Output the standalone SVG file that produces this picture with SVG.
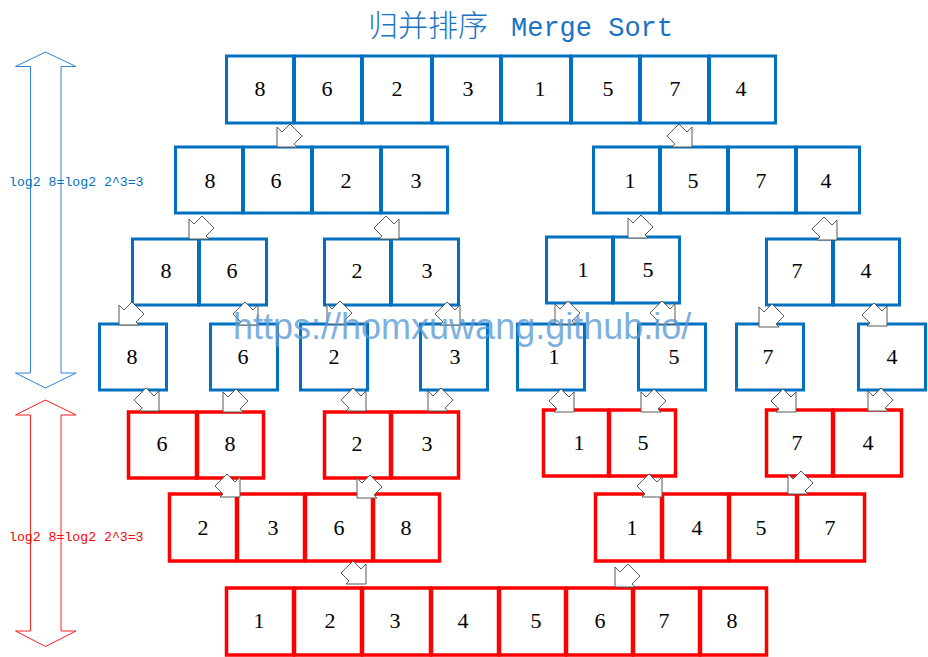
<svg xmlns="http://www.w3.org/2000/svg" xmlns:xlink="http://www.w3.org/1999/xlink" width="928" height="657" viewBox="0 0 928 657">
<style>
.b{fill:#fff;stroke:#0070c0;stroke-width:3}
.r{fill:#fff;stroke:#ff0000;stroke-width:3.5}
.n{font-family:"Liberation Serif","Times New Roman",serif;font-size:22px;fill:#000;text-anchor:middle}
.ar{fill:#fff;stroke:#595959;stroke-width:1}
.lg{font-family:"Liberation Mono","Courier New",monospace;font-size:13.2px}
</style>
<defs>
<polygon id="dl" class="ar" points="0,0 0,-20 5,-15 13,-23 25,-11 17,-3 20,0"/>
<polygon id="dr" class="ar" points="0,0 0,-20 -5,-15 -13,-23 -25,-11 -17,-3 -20,0"/>
</defs>
<rect width="928" height="657" fill="#fff"/>
<g id="title">
<text x="368" y="36" font-family="'Noto Sans CJK SC',sans-serif" font-weight="300" font-size="30" fill="#1a73c2">归并排序</text>
<text x="511" y="36" font-family="'Liberation Mono','Courier New',monospace" font-size="27" fill="#1a73c2">Merge Sort</text>
</g>
<g id="depth-split">
<polygon points="45.5,52 76,66.5 61,66.5 61,373 76,373 45.5,388 15.5,373 30.5,373 30.5,66.5 15.5,66.5" fill="none" stroke="#2f86d6" stroke-width="1"/>
<text class="lg" x="9" y="186" fill="#0070c0">log2 8=log2 2^3=3</text>
</g>
<g id="depth-merge">
<polygon points="45.5,400 76,415 61,415 61,631 76,631 45.5,646.5 15.5,631 30.5,631 30.5,415 15.5,415" fill="none" stroke="#ff2020" stroke-width="1"/>
<text class="lg" x="9" y="541" fill="#ff0000">log2 8=log2 2^3=3</text>
</g>
<g id="row1">
<g id="n1-1"><rect class="b" x="226.5" y="56" width="67" height="67"/><text class="n" x="260" y="96">8</text></g>
<g id="n1-2"><rect class="b" x="294.5" y="56" width="67" height="67"/><text class="n" x="327" y="96">6</text></g>
<g id="n1-3"><rect class="b" x="362.5" y="56" width="69" height="67"/><text class="n" x="397" y="96">2</text></g>
<g id="n1-4"><rect class="b" x="432.5" y="56" width="68" height="67"/><text class="n" x="468" y="96">3</text></g>
<g id="n1-5"><rect class="b" x="501.5" y="56" width="69" height="67"/><text class="n" x="540" y="96">1</text></g>
<g id="n1-6"><rect class="b" x="571.5" y="56" width="68" height="67"/><text class="n" x="608" y="96">5</text></g>
<g id="n1-7"><rect class="b" x="640.5" y="56" width="68" height="67"/><text class="n" x="675" y="96">7</text></g>
<g id="n1-8"><rect class="b" x="709.5" y="56" width="66" height="67"/><text class="n" x="741" y="96">4</text></g>
</g>
<g id="row2">
<g id="n2-1"><rect class="b" x="175.5" y="147" width="67" height="66"/><text class="n" x="210" y="188">8</text></g>
<g id="n2-2"><rect class="b" x="243.5" y="147" width="68" height="66"/><text class="n" x="276" y="188">6</text></g>
<g id="n2-3"><rect class="b" x="312.5" y="147" width="68" height="66"/><text class="n" x="346" y="188">2</text></g>
<g id="n2-4"><rect class="b" x="381.5" y="147" width="66" height="66"/><text class="n" x="416" y="188">3</text></g>
<g id="n2-5"><rect class="b" x="593.5" y="147" width="66" height="66"/><text class="n" x="630" y="188">1</text></g>
<g id="n2-6"><rect class="b" x="660.5" y="147" width="67" height="66"/><text class="n" x="693" y="188">5</text></g>
<g id="n2-7"><rect class="b" x="728.5" y="147" width="67" height="66"/><text class="n" x="761" y="188">7</text></g>
<g id="n2-8"><rect class="b" x="796.5" y="147" width="63" height="66"/><text class="n" x="826" y="188">4</text></g>
</g>
<g id="row3">
<g id="n3-1"><rect class="b" x="132.5" y="239" width="66" height="66"/><text class="n" x="166" y="278">8</text></g>
<g id="n3-2"><rect class="b" x="199.5" y="239" width="67" height="66"/><text class="n" x="232" y="278">6</text></g>
<g id="n3-3"><rect class="b" x="324.5" y="239" width="66" height="66"/><text class="n" x="357" y="278">2</text></g>
<g id="n3-4"><rect class="b" x="391.5" y="239" width="67" height="66"/><text class="n" x="427" y="278">3</text></g>
<g id="n3-5"><rect class="b" x="546.5" y="237" width="66" height="66"/><text class="n" x="583" y="277">1</text></g>
<g id="n3-6"><rect class="b" x="613.5" y="237" width="66" height="66"/><text class="n" x="648" y="277">5</text></g>
<g id="n3-7"><rect class="b" x="766.5" y="239" width="66" height="66"/><text class="n" x="797" y="278">7</text></g>
<g id="n3-8"><rect class="b" x="833.5" y="239" width="66" height="66"/><text class="n" x="866" y="278">4</text></g>
</g>
<g id="row4">
<g id="n4-1"><rect class="b" x="99.5" y="324" width="67" height="66"/><text class="n" x="132" y="364">8</text></g>
<g id="n4-2"><rect class="b" x="210.5" y="324" width="67" height="66"/><text class="n" x="243" y="364">6</text></g>
<g id="n4-3"><rect class="b" x="300.5" y="324" width="67" height="66"/><text class="n" x="334" y="364">2</text></g>
<g id="n4-4"><rect class="b" x="420.5" y="324" width="67" height="66"/><text class="n" x="455" y="364">3</text></g>
<g id="n4-5"><rect class="b" x="517.5" y="324" width="67" height="66"/><text class="n" x="554" y="364">1</text></g>
<g id="n4-6"><rect class="b" x="638.5" y="324" width="67" height="66"/><text class="n" x="674" y="364">5</text></g>
<g id="n4-7"><rect class="b" x="736.5" y="324" width="67" height="66"/><text class="n" x="768" y="364">7</text></g>
<g id="n4-8"><rect class="b" x="858.5" y="324" width="67" height="66"/><text class="n" x="892" y="364">4</text></g>
</g>
<g id="row5">
<g id="n5-1"><rect class="r" x="128.5" y="412" width="68" height="66"/><text class="n" x="162" y="451">6</text></g>
<g id="n5-2"><rect class="r" x="197.5" y="412" width="66" height="66"/><text class="n" x="230" y="451">8</text></g>
<g id="n5-3"><rect class="r" x="324.5" y="412" width="66" height="66"/><text class="n" x="357" y="451">2</text></g>
<g id="n5-4"><rect class="r" x="391.5" y="412" width="67" height="66"/><text class="n" x="427" y="451">3</text></g>
<g id="n5-5"><rect class="r" x="543.5" y="410" width="65" height="66"/><text class="n" x="579" y="450">1</text></g>
<g id="n5-6"><rect class="r" x="609.5" y="410" width="66" height="66"/><text class="n" x="643" y="450">5</text></g>
<g id="n5-7"><rect class="r" x="766.5" y="410" width="66" height="66"/><text class="n" x="797" y="450">7</text></g>
<g id="n5-8"><rect class="r" x="833.5" y="410" width="68" height="66"/><text class="n" x="868" y="450">4</text></g>
</g>
<g id="row6">
<g id="n6-1"><rect class="r" x="169.5" y="494" width="67" height="67"/><text class="n" x="203" y="535">2</text></g>
<g id="n6-2"><rect class="r" x="237.5" y="494" width="67" height="67"/><text class="n" x="273" y="535">3</text></g>
<g id="n6-3"><rect class="r" x="305.5" y="494" width="67" height="67"/><text class="n" x="339" y="535">6</text></g>
<g id="n6-4"><rect class="r" x="373.5" y="494" width="66" height="67"/><text class="n" x="406" y="535">8</text></g>
<g id="n6-5"><rect class="r" x="595.5" y="494" width="66" height="67"/><text class="n" x="632" y="535">1</text></g>
<g id="n6-6"><rect class="r" x="662.5" y="494" width="66" height="67"/><text class="n" x="697" y="535">4</text></g>
<g id="n6-7"><rect class="r" x="729.5" y="494" width="67" height="67"/><text class="n" x="761" y="535">5</text></g>
<g id="n6-8"><rect class="r" x="797.5" y="494" width="67" height="67"/><text class="n" x="830" y="535">7</text></g>
</g>
<g id="row7">
<g id="n7-1"><rect class="r" x="226.5" y="588" width="67" height="67"/><text class="n" x="259" y="628">1</text></g>
<g id="n7-2"><rect class="r" x="294.5" y="588" width="67" height="67"/><text class="n" x="330" y="628">2</text></g>
<g id="n7-3"><rect class="r" x="362.5" y="588" width="68" height="67"/><text class="n" x="395" y="628">3</text></g>
<g id="n7-4"><rect class="r" x="431.5" y="588" width="67" height="67"/><text class="n" x="463" y="628">4</text></g>
<g id="n7-5"><rect class="r" x="499.5" y="588" width="66" height="67"/><text class="n" x="536" y="628">5</text></g>
<g id="n7-6"><rect class="r" x="566.5" y="588" width="66" height="67"/><text class="n" x="600" y="628">6</text></g>
<g id="n7-7"><rect class="r" x="633.5" y="588" width="66" height="67"/><text class="n" x="664" y="628">7</text></g>
<g id="n7-8"><rect class="r" x="700.5" y="588" width="66" height="67"/><text class="n" x="732" y="628">8</text></g>
</g>
<g id="connectors">
<use xlink:href="#dl" x="277" y="147"/>
<use xlink:href="#dr" x="692" y="147"/>
<use xlink:href="#dl" x="189" y="239"/>
<use xlink:href="#dr" x="399" y="239"/>
<use xlink:href="#dl" x="628" y="238"/>
<use xlink:href="#dr" x="837" y="240"/>
<use xlink:href="#dl" x="119" y="325"/>
<use xlink:href="#dr" x="258" y="325"/>
<use xlink:href="#dl" x="327" y="324"/>
<use xlink:href="#dr" x="460" y="325"/>
<use xlink:href="#dl" x="555" y="324"/>
<use xlink:href="#dr" x="675" y="324"/>
<use xlink:href="#dl" x="759" y="327"/>
<use xlink:href="#dr" x="887" y="326"/>
<use xlink:href="#dr" x="159" y="411"/>
<use xlink:href="#dl" x="223" y="412"/>
<use xlink:href="#dr" x="366" y="411"/>
<use xlink:href="#dl" x="428" y="411"/>
<use xlink:href="#dr" x="574" y="412"/>
<use xlink:href="#dl" x="641" y="412"/>
<use xlink:href="#dr" x="796" y="412"/>
<use xlink:href="#dl" x="868" y="411"/>
<use xlink:href="#dr" x="240" y="497"/>
<use xlink:href="#dl" x="357" y="498"/>
<use xlink:href="#dr" x="662" y="497"/>
<use xlink:href="#dl" x="788" y="494"/>
<use xlink:href="#dr" x="366" y="584"/>
<use xlink:href="#dl" x="615" y="587"/>
</g>
<g id="watermark">
<text x="233" y="339" font-family="'Liberation Sans',Arial,sans-serif" font-size="36" fill="#5b9bd5" fill-opacity="0.8">https://homxuwang.github.io/</text>
</g>
</svg>
